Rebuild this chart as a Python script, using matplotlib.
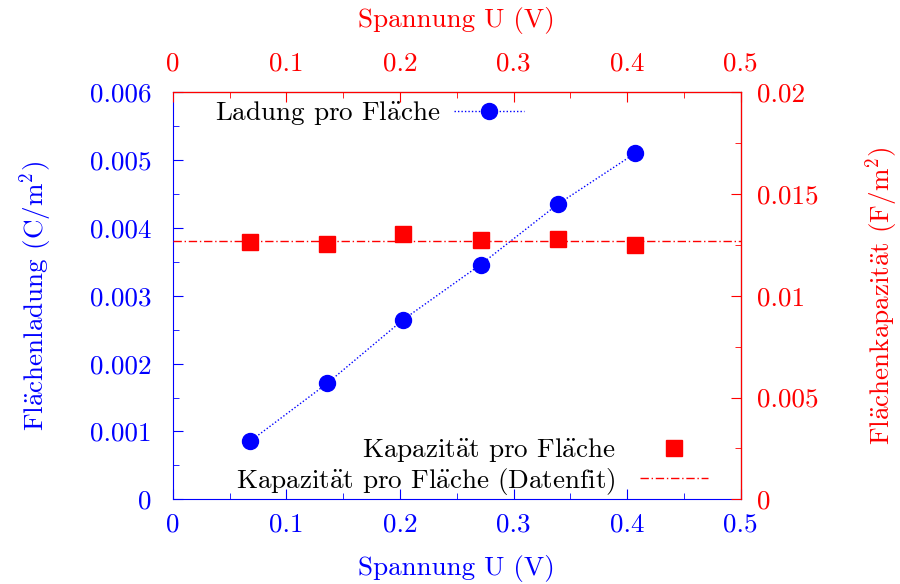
import matplotlib
matplotlib.use("Agg")
import matplotlib.pyplot as plt
from matplotlib.ticker import MultipleLocator, FormatStrFormatter

plt.rcParams['font.family'] = ['cmr10', 'DejaVu Serif']
plt.rcParams['mathtext.fontset'] = 'cm'
plt.rcParams['axes.formatter.use_mathtext'] = True
plt.rcParams['font.size'] = 19.5

# Messdaten
spannung = [0.068, 0.136, 0.203, 0.271, 0.339, 0.407]
ladung = [0.000855, 0.00171, 0.00265, 0.00346, 0.00435, 0.0051]
kapazitaet = [0.01263, 0.01253, 0.01302, 0.01273, 0.01278, 0.01248]
kapazitaet_fit = 0.01269

# cmr10 hat kein ä -> Umlaut per mathtext
AE = r'$\ddot{\mathrm{a}}$'

blau = '#0000ff'
rot = '#ff0000'

fig = plt.figure(figsize=(9, 5.84), dpi=100)
ax = fig.add_axes([0.192, 0.145, 0.631, 0.697])
ax2 = ax.twinx()
ax3 = ax.twiny()

# Ladung (linke Achse)
l1, = ax.plot(spannung, ladung, linestyle=(0, (1, 1.5)), color=blau, lw=1,
              marker='o', markersize=11.5, label='Ladung pro Fl' + AE + 'che')
ax.set_xlim(0, 0.5)
ax.set_ylim(0, 0.006)

# Kapazitaet (rechte Achse)
l2, = ax2.plot(spannung, kapazitaet, linestyle='none', marker='s', markersize=11,
               color=rot, label='Kapazit' + AE + 't pro Fl' + AE + 'che')
l3 = ax2.axhline(kapazitaet_fit, color=rot, lw=1, linestyle=(0, (6, 2, 1, 2)),
                 label='Kapazit' + AE + 't pro Fl' + AE + 'che (Datenfit)')
ax2.set_ylim(0, 0.02)
ax3.set_xlim(0, 0.5)

ax.xaxis.set_major_locator(MultipleLocator(0.1))
ax.xaxis.set_minor_locator(MultipleLocator(0.05))
ax.yaxis.set_major_locator(MultipleLocator(0.001))
ax.yaxis.set_minor_locator(MultipleLocator(0.0005))
ax2.yaxis.set_major_locator(MultipleLocator(0.005))
ax2.yaxis.set_minor_locator(MultipleLocator(0.0025))
ax3.xaxis.set_major_locator(MultipleLocator(0.1))
ax3.xaxis.set_minor_locator(MultipleLocator(0.05))
for axis in (ax.xaxis, ax.yaxis, ax2.yaxis, ax3.xaxis):
    axis.set_major_formatter(FormatStrFormatter('%g'))

ax.tick_params(axis='x', which='both', direction='in', colors=blau, pad=10)
ax.tick_params(axis='y', which='both', direction='in', colors=blau, pad=15)
ax2.tick_params(axis='y', which='both', direction='in', colors=rot, pad=12)
ax3.tick_params(axis='x', which='both', direction='in', colors=rot, pad=12)
for a in (ax, ax2, ax3):
    a.tick_params(which='major', length=7)
    a.tick_params(which='minor', length=4)

ax.spines['left'].set_color(blau)
ax.spines['bottom'].set_color(blau)
ax2.spines['right'].set_color(rot)
ax2.spines['top'].set_color(rot)
ax3.spines['top'].set_color(rot)
ax2.spines['left'].set_visible(False)
ax2.spines['bottom'].set_visible(False)
ax3.spines['left'].set_visible(False)
ax3.spines['bottom'].set_visible(False)
ax3.spines['right'].set_color(rot)

ax.set_xlabel('Spannung U (V)', color=blau, labelpad=13)
ax3.set_xlabel('Spannung U (V)', color=rot, labelpad=18)
ax.set_ylabel('Fl' + AE + r'chenladung (C/m$^2$)', color=blau, labelpad=26)
ax2.set_ylabel('Fl' + AE + 'chenkapazit' + AE + r't (F/m$^2$)', color=rot, labelpad=32)

leg1 = ax3.legend(handles=[l1], loc='upper left', markerfirst=False, frameon=False,
                  handlelength=2.6, handletextpad=0.5, borderaxespad=0,
                  bbox_to_anchor=(0.055, 1.01))
ax3.add_artist(leg1)
ax3.legend(handles=[l2, l3], loc='lower right', markerfirst=False, frameon=False,
           handlelength=2.5, handletextpad=0.9, labelspacing=0.05, borderaxespad=0,
           bbox_to_anchor=(0.961, -0.02))

fig.savefig('out.png', dpi=100)
